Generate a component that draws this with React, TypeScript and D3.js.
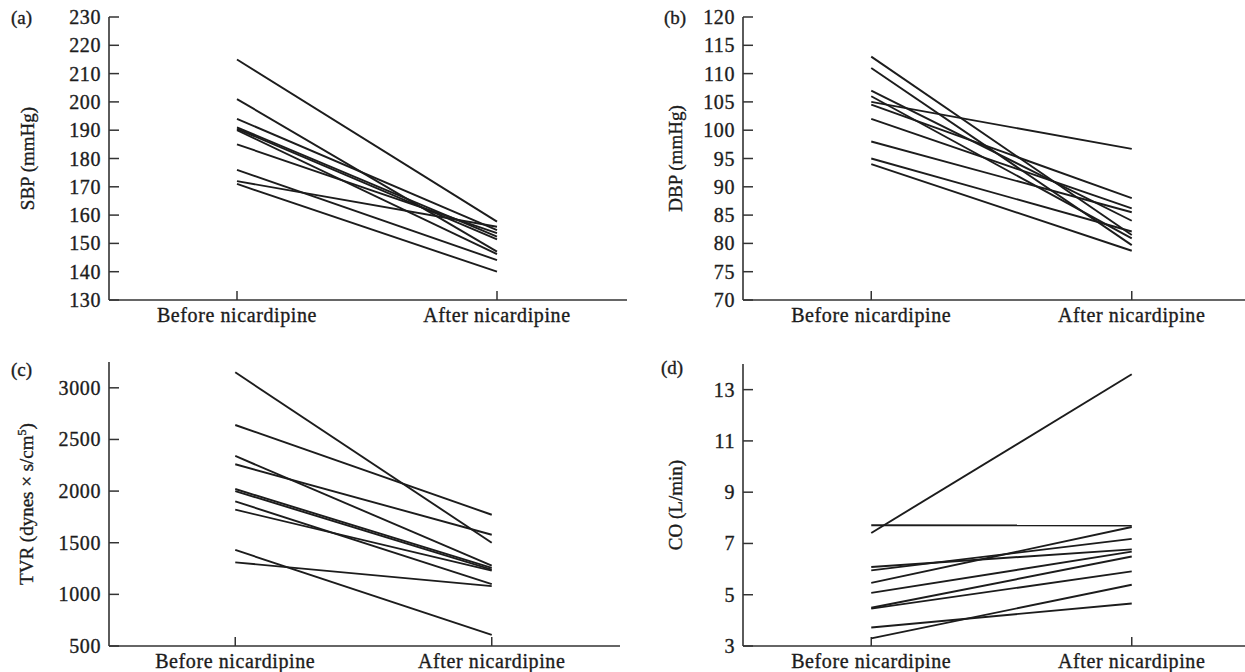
import React from 'react';
import * as d3 from 'd3';

// categories on the x axis
const categories = ['Before nicardipine', 'After nicardipine'];

// per-patient values (before, after)
const sbpBefore = [215, 201, 194, 191, 190.5, 190, 185, 176, 172, 171];
const sbpAfter = [157.7, 147.1, 154.7, 152.4, 151.4, 146.2, 153.6, 144.1, 155.9, 140];
const sbpTicks = [130, 140, 150, 160, 170, 180, 190, 200, 210, 220, 230];

const dbpBefore = [113, 111, 107, 106, 105, 104.5, 102, 98, 95, 94];
const dbpAfter = [81.5, 79.7, 84, 80.9, 96.7, 88, 86.2, 85.5, 82.1, 78.7];
const dbpTicks = [70, 75, 80, 85, 90, 95, 100, 105, 110, 115, 120];

const tvrBefore = [3150, 2640, 2340, 2260, 2020, 2000, 1900, 1820, 1430, 1310];
const tvrAfter = [1500, 1771, 1278, 1577, 1256, 1240, 1100, 1230, 607, 1080];
const tvrTicks = [500, 1000, 1500, 2000, 2500, 3000];

const coBefore = [7.71, 7.41, 6.08, 5.95, 5.46, 5.07, 4.49, 4.46, 3.72, 3.3];
const coAfter = [7.7, 13.6, 6.77, 7.18, 7.64, 6.68, 6.49, 5.91, 4.66, 5.39];
const coTicks = [3, 5, 7, 9, 11, 13];

const FONT = '"Liberation Serif", "Times New Roman", serif';
const INK = '#1c1c1c';

// faux semibold for the serif text
const txt = { fill: INK, stroke: INK, strokeWidth: 0.35 };

type PanelProps = {
  tag: string;
  tagX: number;
  tagY: number;
  x0: number; // y axis position
  x1: number; // end of x axis
  top: number;
  bottom: number;
  domain: [number, number];
  ticks: number[];
  before: number[];
  after: number[];
  label: React.ReactNode;
  labelX: number;
  catY: number;
};

function Panel(p: PanelProps) {
  const x = d3.scalePoint<string>().domain(categories).range([p.x0 - 2, p.x1]).padding(0.5);
  const y = d3.scaleLinear().domain(p.domain).range([p.bottom, p.top]);
  const line = d3.line<[string, number]>()
    .x(d => x(d[0]) as number)
    .y(d => y(d[1]));

  return (
    <g>
      <text x={p.tagX} y={p.tagY} fontSize={19} dy="0.35em" {...txt}>{p.tag}</text>

      {/* y axis */}
      <line x1={p.x0} x2={p.x0} y1={p.top} y2={p.bottom} stroke="#333" strokeWidth={1.6} />
      {p.ticks.map(t => (
        <g key={t}>
          <line x1={p.x0} x2={p.x0 + 10} y1={y(t)} y2={y(t)} stroke="#333" strokeWidth={1.5} />
          <text x={p.x0 - 8} y={y(t)} dy="0.35em" textAnchor="end" fontSize={20} letterSpacing={0.6} {...txt}>{t}</text>
        </g>
      ))}

      {/* x axis */}
      <line x1={p.x0} x2={p.x1} y1={p.bottom} y2={p.bottom} stroke="#333" strokeWidth={1.6} />
      {categories.map(c => (
        <g key={c}>
          <line x1={x(c)} x2={x(c)} y1={p.bottom} y2={p.bottom - 9} stroke="#333" strokeWidth={1.5} />
          <text x={x(c)} y={p.catY} textAnchor="middle" fontSize={20} letterSpacing={0.6} {...txt}>{c}</text>
        </g>
      ))}

      <text
        transform={`translate(${p.labelX},${(p.top + p.bottom) / 2}) rotate(-90)`}
        textAnchor="middle"
        dy="0.35em"
        fontSize={19}
        {...txt}
      >
        {p.label}
      </text>

      {p.before.map((b, i) => (
        <path
          key={i}
          d={line([[categories[0], b], [categories[1], p.after[i]]]) || ''}
          fill="none"
          stroke={INK}
          strokeWidth={1.9}
        />
      ))}
    </g>
  );
}

export default function App() {
  return (
    <svg
      width={1245}
      height={672}
      style={{ position: 'absolute', left: 0, top: 0, background: '#fff' }}
      fontFamily={FONT}
    >
      <Panel tag="(a)" tagX={11} tagY={17} x0={109} x1={627} top={17} bottom={300}
        domain={[130, 230]} ticks={sbpTicks} before={sbpBefore} after={sbpAfter}
        label="SBP (mmHg)" labelX={27} catY={322} />
      <Panel tag="(b)" tagX={664} tagY={17} x0={743} x1={1262} top={17} bottom={300}
        domain={[70, 120]} ticks={dbpTicks} before={dbpBefore} after={dbpAfter}
        label="DBP (mmHg)" labelX={675} catY={322} />
      <Panel tag="(c)" tagX={11} tagY={369} x0={109} x1={620} top={362} bottom={646}
        domain={[500, 3250]} ticks={tvrTicks} before={tvrBefore} after={tvrAfter}
        label={<>TVR (dynes × s/cm<tspan baselineShift="super" fontSize={12}>5</tspan>)</>}
        labelX={26} catY={668} />
      <Panel tag="(d)" tagX={661} tagY={367} x0={743} x1={1262} top={364} bottom={646}
        domain={[3, 14]} ticks={coTicks} before={coBefore} after={coAfter}
        label="CO (L/min)" labelX={675} catY={668} />
    </svg>
  );
}
